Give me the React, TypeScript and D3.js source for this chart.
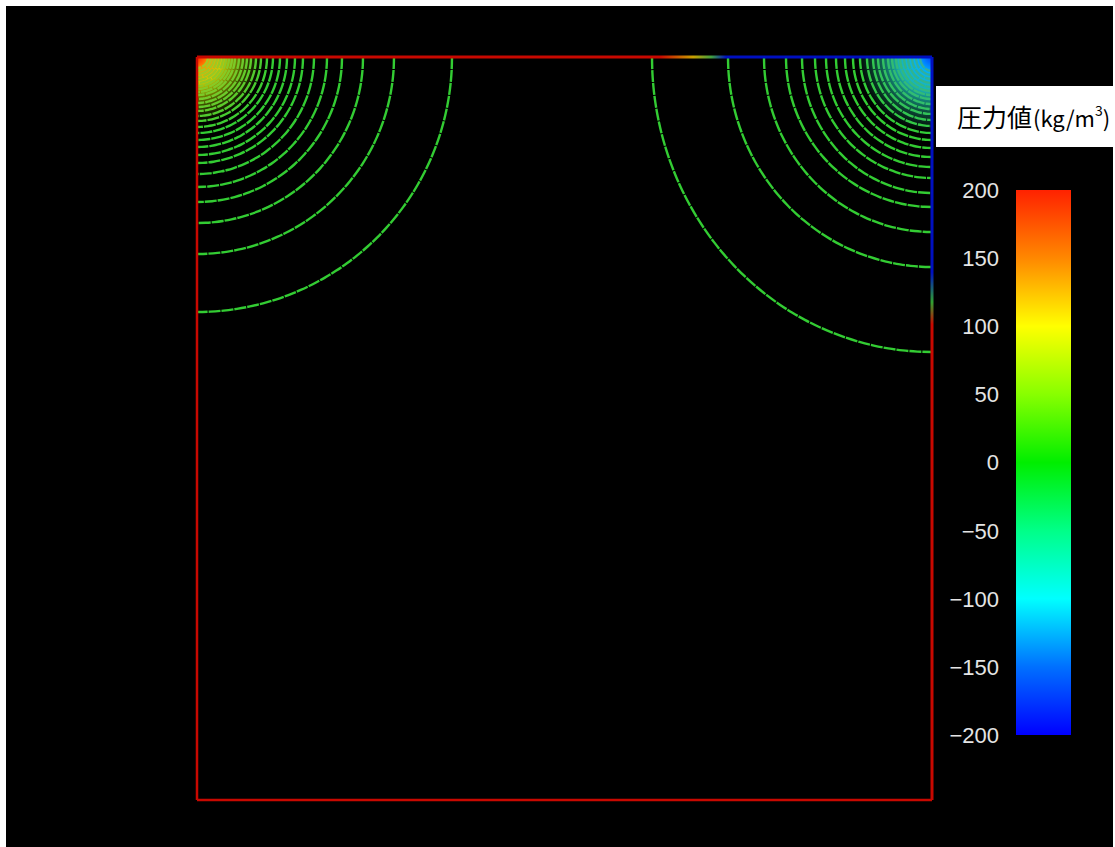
import React from 'react';
import * as d3 from 'd3';

// contour radii (plot units = px from the corner)
const leftRadii = [255, 197, 166, 145, 130, 117, 106, 98, 90, 83, 76, 70, 64, 59, 54, 50, 46, 42, 38, 35, 32, 29, 26, 23, 20, 17, 14, 11];
const rightRadiiTop = [280, 204, 168, 146, 130, 117, 106, 96, 87, 79, 72, 65, 59, 54, 49, 44, 40, 36, 32, 28, 24, 20, 16, 12];
const rightRadiiSide = [295, 210, 175, 150, 136, 121, 110, 100, 91, 83, 76, 69, 63, 57, 52, 47, 42, 38, 34, 30, 26, 22, 18, 14];

// colour bar
const legendTicks = [200, 150, 100, 50, 0, -50, -100, -150, -200];
const legendColors = ['#ff2200', '#ff8800', '#ffff00', '#88ff00', '#00ee00', '#00ff88', '#00ffff', '#0070ff', '#0000ff'];
const legendTitle = '圧力値';

const W = 1115;
const H = 847;

export default function App() {
  // plot domain in px units from the top-left corner of the frame
  const x = d3.scaleLinear().domain([0, 735]).range([197, 932]);
  const y = d3.scaleLinear().domain([0, 743]).range([57, 800]);
  const color = d3.scaleLinear<string>().domain(legendTicks).range(legendColors);
  const barY = d3.scaleLinear().domain([200, -200]).range([190, 735]);

  const angles = d3.range(0, 91, 3).map((a) => (a * Math.PI) / 180);
  const line = d3.line<[number, number]>().curve(d3.curveCatmullRom);

  const arc = (cx: number, rx: number, ry: number, dir: number) =>
    line(angles.map((t) => [x(cx + dir * rx * Math.cos(t)), y(ry * Math.sin(t))] as [number, number]));

  const leftTint = d3.interpolateRgb('#a8c820', '#33cc33');
  const rightTint = d3.interpolateRgb('#30b0a0', '#33cc33');
  const tintT = (r: number) => Math.min(1, Math.max(0, (r - 15) / 60));

  return (
    <svg width={W} height={H} style={{ position: 'absolute', left: 0, top: 0, display: 'block' }}>
      <defs>
        <radialGradient id="tl" gradientUnits="userSpaceOnUse" cx={x(0)} cy={y(0)} r={65}>
          <stop offset="0" stopColor="#ff2000" />
          <stop offset="0.18" stopColor="#ff9000" />
          <stop offset="0.4" stopColor="#eee000" stopOpacity="0.9" />
          <stop offset="0.75" stopColor="#a0d000" stopOpacity="0.35" />
          <stop offset="1" stopColor="#80c000" stopOpacity="0" />
        </radialGradient>
        <radialGradient id="tr" gradientUnits="userSpaceOnUse" cx={x(735)} cy={y(0)} r={75}>
          <stop offset="0" stopColor="#0040ff" />
          <stop offset="0.2" stopColor="#00b0ff" />
          <stop offset="0.45" stopColor="#20e0e0" stopOpacity="0.8" />
          <stop offset="0.8" stopColor="#20c090" stopOpacity="0.3" />
          <stop offset="1" stopColor="#20c090" stopOpacity="0" />
        </radialGradient>
        <linearGradient id="topEdge" gradientUnits="userSpaceOnUse" x1={x(0)} x2={x(735)} y1={0} y2={0}>
          <stop offset="0" stopColor="#c80800" />
          <stop offset="0.63" stopColor="#c80800" />
          <stop offset="0.675" stopColor="#c8a000" />
          <stop offset="0.7" stopColor="#40a040" />
          <stop offset="0.72" stopColor="#0010c0" />
          <stop offset="1" stopColor="#0010c0" />
        </linearGradient>
        <linearGradient id="rightEdge" gradientUnits="userSpaceOnUse" x1={0} x2={0} y1={y(0)} y2={y(743)}>
          <stop offset="0" stopColor="#0010c0" />
          <stop offset="0.29" stopColor="#0010c0" />
          <stop offset="0.33" stopColor="#30a030" />
          <stop offset="0.36" stopColor="#c80800" />
          <stop offset="1" stopColor="#c80800" />
        </linearGradient>
        <linearGradient id="bar" x1="0" x2="0" y1="0" y2="1">
          {legendTicks.map((t, i) => (
            <stop key={t} offset={i / (legendTicks.length - 1)} stopColor={color(t)} />
          ))}
        </linearGradient>
        <clipPath id="plot">
          <rect x={x(0)} y={y(0)} width={x(735) - x(0)} height={y(743) - y(0)} />
        </clipPath>
      </defs>

      <rect x={0} y={0} width={W} height={H} fill="#fff" />
      <rect x={6} y={6} width={W - 8} height={H - 6} fill="#000" />

      <g clipPath="url(#plot)">
        <circle cx={x(0)} cy={y(0)} r={65} fill="url(#tl)" />
        <circle cx={x(735)} cy={y(0)} r={75} fill="url(#tr)" />
        {leftRadii.map((r, i) => (
          <path key={'l' + i} d={arc(0, r, r, 1) || ''} fill="none" stroke={leftTint(tintT(r))}
            strokeWidth={2.4} strokeDasharray="12 1" />
        ))}
        {rightRadiiTop.map((r, i) => (
          <path key={'r' + i} d={arc(735, r, rightRadiiSide[i], -1) || ''} fill="none"
            stroke={rightTint(tintT(r))} strokeWidth={2.4} strokeDasharray="12 1" />
        ))}
      </g>

      {/* frame */}
      <line x1={x(0)} x2={x(0)} y1={y(0)} y2={y(743)} stroke="#c80800" strokeWidth={2.5} />
      <line x1={x(0)} x2={x(735)} y1={y(743)} y2={y(743)} stroke="#c80800" strokeWidth={2.5} />
      <line x1={x(0)} x2={x(735)} y1={y(0)} y2={y(0)} stroke="url(#topEdge)" strokeWidth={3} />
      <line x1={x(735)} x2={x(735)} y1={y(0)} y2={y(743)} stroke="url(#rightEdge)" strokeWidth={3} />

      {/* legend */}
      <rect x={936} y={86} width={W - 936} height={61} fill="#fff" />
      <text x={957} y={127} fontFamily="'Noto Sans CJK JP', 'Noto Sans', sans-serif" fontSize={25} fill="#000">
        {legendTitle}
        <tspan fontSize={22} dx={1}>(kg/m</tspan>
        <tspan fontSize={14} dy={-11}>3</tspan>
        <tspan fontSize={22} dy={11}>)</tspan>
      </text>

      <rect x={1016} y={barY(200)} width={55} height={barY(-200) - barY(200)} fill="url(#bar)" />
      {legendTicks.map((t) => (
        <text key={t} x={999} y={barY(t)} dy="0.36em" textAnchor="end"
          fontFamily="'Liberation Sans', Arial, sans-serif" fontSize={22} fill="#e4e4e4">
          {d3.format('d')(t)}
        </text>
      ))}
    </svg>
  );
}
